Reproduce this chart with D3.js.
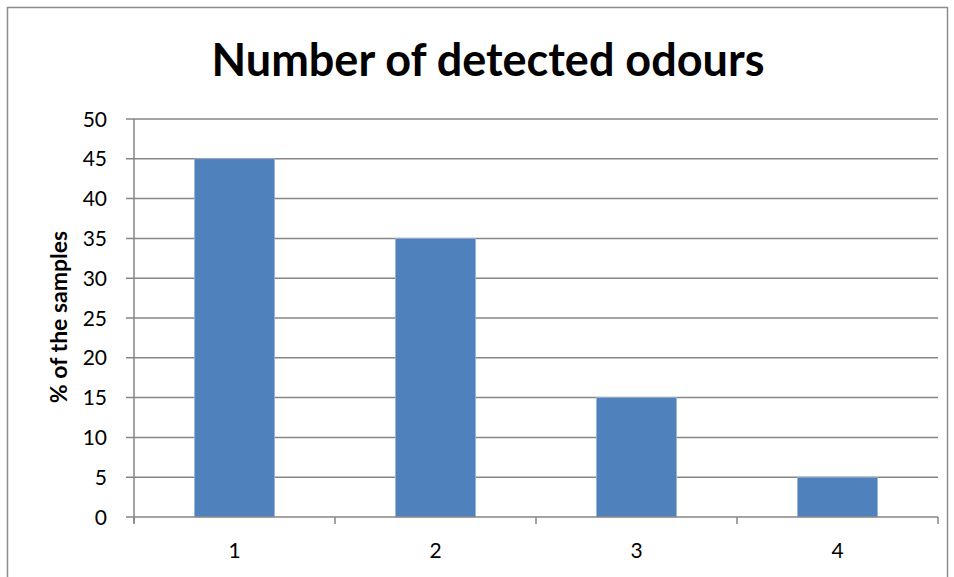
<!DOCTYPE html>
<html>
<head>
<meta charset="utf-8">
<script src="https://cdn.jsdelivr.net/npm/d3@7"></script>
<style>
  body { margin: 0; background: #fff; }
  text { font-family: Lato, "Open Sans", sans-serif; }
</style>
</head>
<body>
<div id="grafico"></div>
<script>
// datos del grafico
var categorias = ["1", "2", "3", "4"];
var porcentajes = [45, 35, 15, 5];
var ticksY = [0, 5, 10, 15, 20, 25, 30, 35, 40, 45, 50];

var ancho = 954, alto = 577;
var izq = 134, der = 938, arriba = 119, abajo = 517;

var svg = d3.select("#grafico")
  .append("svg")
  .attr("width", ancho)
  .attr("height", alto);

// marco exterior
svg.append("rect")
  .attr("x", 7.5).attr("y", 7.5)
  .attr("width", 940).attr("height", 600)
  .attr("fill", "none")
  .attr("stroke", "#8c8c8c")
  .attr("stroke-width", 1.5);

// titulo
svg.append("text")
  .text("Number of detected odours")
  .attr("x", 488)
  .attr("y", 76)
  .attr("text-anchor", "middle")
  .attr("font-size", 45)
  .attr("font-weight", "bold")
  .attr("fill", "black");

var x = d3.scaleBand()
  .domain(categorias)
  .range([izq, der])
  .paddingInner(0.6)
  .paddingOuter(0.3);

var y = d3.scaleLinear()
  .domain([0, 50])
  .range([abajo, arriba]);

// lineas de la cuadricula
svg.append("g")
  .selectAll("line")
  .data(ticksY.slice(1))
  .enter()
  .append("line")
  .attr("x1", izq - 8)
  .attr("x2", der)
  .attr("y1", function(d){ return y(d); })
  .attr("y2", function(d){ return y(d); })
  .attr("stroke", "#868686")
  .attr("stroke-width", 1.5);

// barras
svg.append("g")
  .selectAll("rect")
  .data(porcentajes)
  .enter()
  .append("rect")
  .attr("x", function(d, i){ return x(categorias[i]); })
  .attr("y", function(d){ return y(d); })
  .attr("width", x.bandwidth())
  .attr("height", function(d){ return y(0) - y(d); })
  .attr("fill", "#4f81bd")
  .attr("stroke", "#a9c0e0")
  .attr("stroke-width", 0.6);

// eje Y
svg.append("line")
  .attr("x1", izq).attr("x2", izq)
  .attr("y1", arriba).attr("y2", abajo + 6)
  .attr("stroke", "#868686").attr("stroke-width", 1.5);

// eje X
svg.append("line")
  .attr("x1", izq - 8).attr("x2", der)
  .attr("y1", abajo).attr("y2", abajo)
  .attr("stroke", "#868686").attr("stroke-width", 1.5);

// marcas entre categorias
var paso = (der - izq) / categorias.length;
svg.append("g")
  .selectAll("line")
  .data(d3.range(categorias.length + 1))
  .enter()
  .append("line")
  .attr("x1", function(d){ return izq + d * paso; })
  .attr("x2", function(d){ return izq + d * paso; })
  .attr("y1", abajo)
  .attr("y2", abajo + 7)
  .attr("stroke", "#868686").attr("stroke-width", 1.5);

// etiquetas eje Y
svg.append("g")
  .selectAll("text")
  .data(ticksY)
  .enter()
  .append("text")
  .text(function(d){ return d; })
  .attr("x", 107)
  .attr("y", function(d){ return y(d); })
  .attr("dy", "0.36em")
  .attr("text-anchor", "end")
  .attr("font-size", 21)
  .attr("fill", "black");

// etiquetas eje X
svg.append("g")
  .selectAll("text")
  .data(categorias)
  .enter()
  .append("text")
  .text(function(d){ return d; })
  .attr("x", function(d){ return x(d) + x.bandwidth() / 2; })
  .attr("y", 558)
  .attr("text-anchor", "middle")
  .attr("font-size", 21)
  .attr("fill", "black");

// titulo eje Y
svg.append("text")
  .text("% of the samples")
  .attr("transform", "translate(67,317) rotate(-90)")
  .attr("text-anchor", "middle")
  .attr("font-size", 23)
  .attr("font-weight", "bold")
  .attr("fill", "black");
</script>
</body>
</html>
